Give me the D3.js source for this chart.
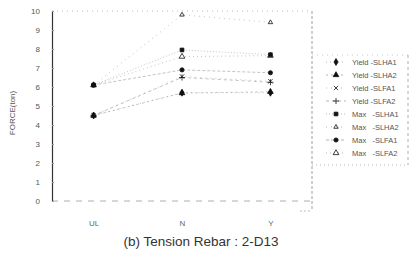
<!DOCTYPE html>
<html>
<head>
<meta charset="utf-8">
<script src="https://cdn.jsdelivr.net/npm/d3@7/dist/d3.min.js"></script>
<style>
  body { margin: 0; background: #fff; }
  text { font-family: "Liberation Sans", Arial, sans-serif; }
</style>
</head>
<body>
<div id="chart"></div>
<script>
// chart data
const categories = ["UL", "N", "Y"];
const seriesNames = ["Yield -SLHA1", "Yield -SLHA2", "Yield -SLFA1", "Yield -SLFA2",
                     "Max   -SLHA1", "Max   -SLHA2", "Max   -SLFA1", "Max   -SLFA2"];
const yieldSLHA1 = [4.5, 5.7, 5.7];
const yieldSLHA2 = [4.5, 5.68, 5.75];
const yieldSLFA1 = [4.5, 6.55, 6.3];
const yieldSLFA2 = [4.5, 6.5, 6.25];
const maxSLHA1 = [6.1, 7.95, 7.7];
const maxSLHA2 = [6.1, 9.8, 9.4];
const maxSLFA1 = [6.1, 6.9, 6.75];
const maxSLFA2 = [6.1, 7.6, 7.65];
const yTicks = [0, 1, 2, 3, 4, 5, 6, 7, 8, 9, 10];

const seriesValues = [yieldSLHA1, yieldSLHA2, yieldSLFA1, yieldSLFA2,
                      maxSLHA1, maxSLHA2, maxSLFA1, maxSLFA2];
const symbols = [d3.symbolDiamond, d3.symbolTriangle, d3.symbolX, d3.symbolPlus,
                 d3.symbolSquare, d3.symbolTriangle2, d3.symbolCircle, d3.symbolTriangle];
const fills = ["#111", "#111", "none", "none", "#111", "none", "#111", "#fff"];
const dashes = ["1,3", "2,3", "1,4", "3,3", "1,2", "1,4", "3,2", "1,3"];

const width = 413, height = 258;
const plotLeft = 52, plotRight = 312, plotTop = 11, plotBottom = 201;

const svg = d3.select("#chart").append("svg").attr("width", width).attr("height", height);

const x = d3.scalePoint().domain(categories).range([plotLeft, plotRight]).padding(0.47);
const y = d3.scaleLinear().domain([0, 10]).range([plotBottom, plotTop]);

// frame
svg.append("line").attr("x1", plotLeft).attr("x2", plotRight).attr("y1", plotTop).attr("y2", plotTop)
    .attr("stroke", "#aaa").attr("stroke-width", 0.8).attr("stroke-dasharray", "1,4");
svg.append("line").attr("x1", plotLeft).attr("x2", plotRight).attr("y1", plotBottom).attr("y2", plotBottom)
    .attr("stroke", "#999").attr("stroke-width", 0.8).attr("stroke-dasharray", "6,6");
svg.append("line").attr("x1", plotRight).attr("x2", plotRight).attr("y1", plotTop).attr("y2", 211)
    .attr("stroke", "#888").attr("stroke-width", 0.8).attr("stroke-dasharray", "3,2");
svg.append("line").attr("x1", 300).attr("x2", plotRight).attr("y1", 211).attr("y2", 211)
    .attr("stroke", "#aaa").attr("stroke-width", 0.8).attr("stroke-dasharray", "2,2");

// y axis
const yAxis = svg.append("g").attr("transform", `translate(${plotLeft},0)`)
    .call(d3.axisLeft(y).tickValues(yTicks).tickSizeInner(-2).tickSizeOuter(0).tickPadding(12));
yAxis.select(".domain").attr("stroke", "#333").attr("stroke-width", 1.2);
yAxis.selectAll(".tick line").attr("stroke", "#999");
yAxis.selectAll(".tick text").attr("fill", "#555").style("font-size", "8px");

// x axis labels
const xAxis = svg.append("g").attr("transform", `translate(0,${plotBottom})`)
    .call(d3.axisBottom(x).tickSize(0).tickPadding(19));
xAxis.select(".domain").remove();
xAxis.selectAll(".tick text").attr("fill", "#666").style("font-size", "8px");

svg.append("text").attr("transform", `translate(15,113) rotate(-90)`)
    .attr("text-anchor", "middle").attr("fill", "#555").style("font-size", "8px")
    .text("FORCE(ton)");

// lines, then markers (drawn last series first so filled ones stay on top)
const line = d3.line().x((d, i) => x(categories[i])).y(d => y(d));
seriesValues.forEach((vals, s) => {
    svg.append("path").datum(vals).attr("d", line).attr("fill", "none")
        .attr("stroke", "#aaa").attr("stroke-width", 0.7).attr("stroke-dasharray", dashes[s]);
});
d3.range(seriesValues.length).reverse().forEach(s => {
    svg.selectAll(null).data(seriesValues[s]).enter().append("path")
        .attr("transform", (d, i) => `translate(${x(categories[i])},${y(d)})`)
        .attr("d", d3.symbol().type(symbols[s]).size(14))
        .attr("fill", fills[s]).attr("stroke", "#111").attr("stroke-width", 0.8);
});

// legend
const legX = 312, legTop = 55, legRight = 408, legBottom = 165;
svg.append("line").attr("x1", legX).attr("x2", legRight).attr("y1", legTop).attr("y2", legTop)
    .attr("stroke", "#bbb").attr("stroke-width", 0.8).attr("stroke-dasharray", "1,4");
svg.append("line").attr("x1", legRight).attr("x2", legRight).attr("y1", legTop).attr("y2", legBottom)
    .attr("stroke", "#999").attr("stroke-width", 0.8).attr("stroke-dasharray", "3,3");
svg.append("line").attr("x1", legX).attr("x2", legRight).attr("y1", legBottom).attr("y2", legBottom)
    .attr("stroke", "#aaa").attr("stroke-width", 0.8).attr("stroke-dasharray", "1,3");

const legend = svg.append("g");
seriesNames.forEach((name, s) => {
    const ly = 62 + s * 13;
    legend.append("line").attr("x1", 326).attr("x2", 346).attr("y1", ly).attr("y2", ly)
        .attr("stroke", "#999").attr("stroke-width", 0.7).attr("stroke-dasharray", dashes[s]);
    legend.append("path").attr("transform", `translate(336,${ly})`)
        .attr("d", d3.symbol().type(symbols[s]).size(14))
        .attr("fill", fills[s]).attr("stroke", "#111").attr("stroke-width", 0.8);
    legend.append("text").attr("x", 352).attr("y", ly + 3).attr("fill", "#555")
        .style("font-size", "7.5px").style("white-space", "pre")
        .text(name);
});

// caption
svg.append("text").attr("x", 201).attr("y", 246).attr("text-anchor", "middle")
    .attr("fill", "#333").style("font-size", "13.5px")
    .text("(b) Tension Rebar : 2-D13");
</script>
</body>
</html>
